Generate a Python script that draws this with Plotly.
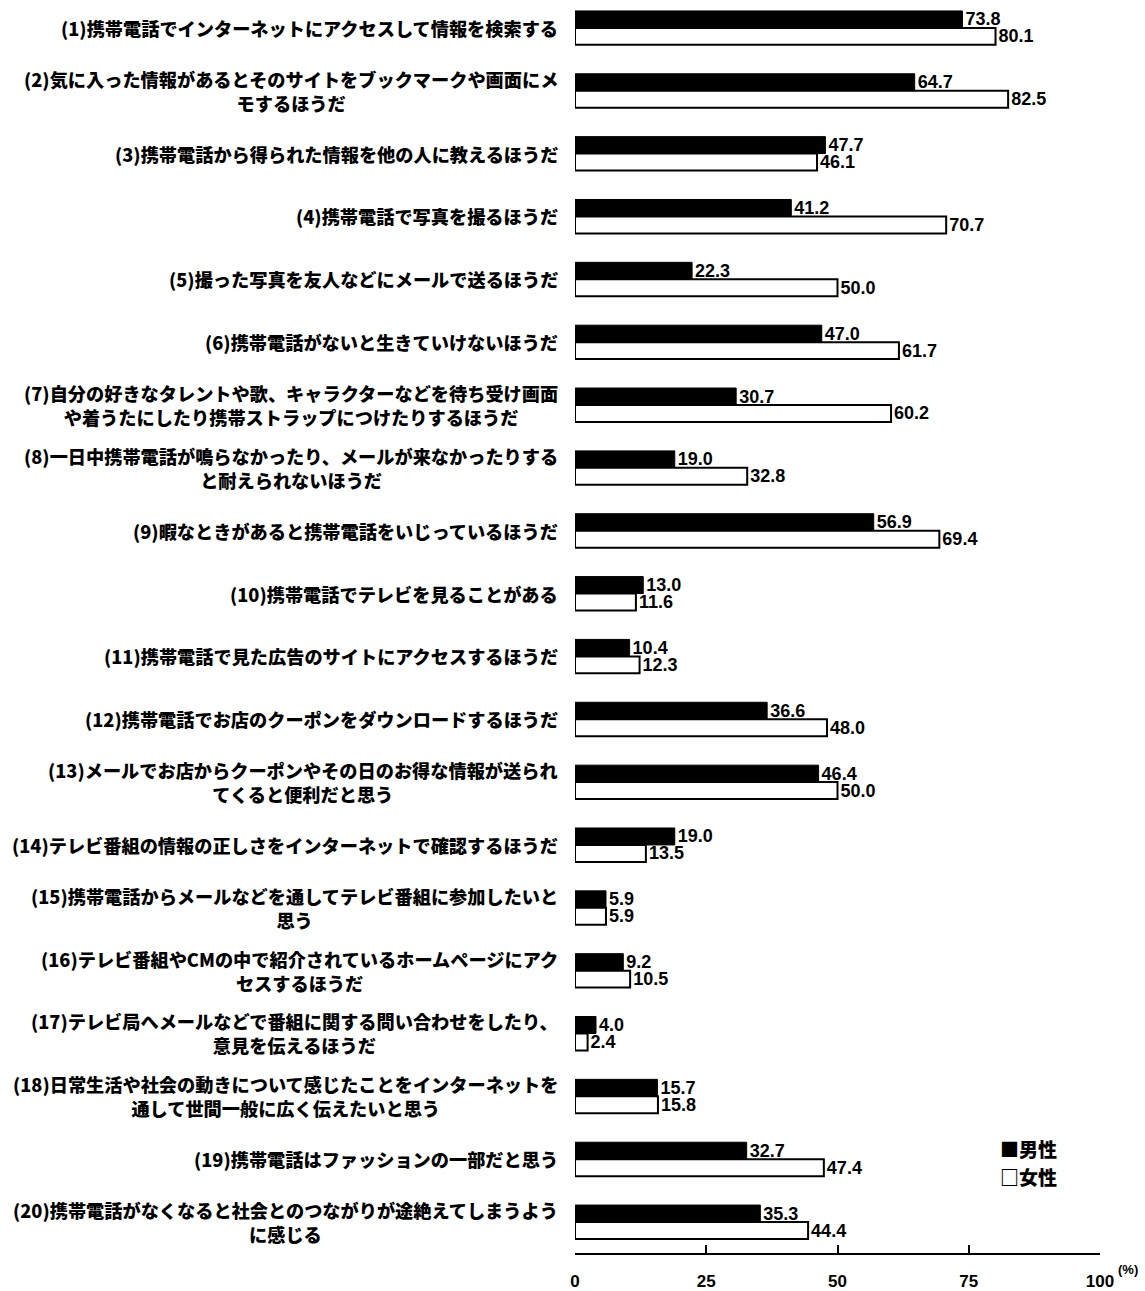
import plotly.graph_objects as go

# Survey items (Japanese), one per row, top to bottom
items = [
    "(1)携帯電話でインターネットにアクセスして情報を検索する",
    "(2)気に入った情報があるとそのサイトをブックマークや画面にメ<br>モするほうだ",
    "(3)携帯電話から得られた情報を他の人に教えるほうだ",
    "(4)携帯電話で写真を撮るほうだ",
    "(5)撮った写真を友人などにメールで送るほうだ",
    "(6)携帯電話がないと生きていけないほうだ",
    "(7)自分の好きなタレントや歌、キャラクターなどを待ち受け画面<br>や着うたにしたり携帯ストラップにつけたりするほうだ",
    "(8)一日中携帯電話が鳴らなかったり、メールが来なかったりする<br>と耐えられないほうだ",
    "(9)暇なときがあると携帯電話をいじっているほうだ",
    "(10)携帯電話でテレビを見ることがある",
    "(11)携帯電話で見た広告のサイトにアクセスするほうだ",
    "(12)携帯電話でお店のクーポンをダウンロードするほうだ",
    "(13)メールでお店からクーポンやその日のお得な情報が送られ<br>てくると便利だと思う",
    "(14)テレビ番組の情報の正しさをインターネットで確認するほうだ",
    "(15)携帯電話からメールなどを通してテレビ番組に参加したいと<br>思う",
    "(16)テレビ番組やCMの中で紹介されているホームページにアク<br>セスするほうだ",
    "(17)テレビ局へメールなどで番組に関する問い合わせをしたり、<br>意見を伝えるほうだ",
    "(18)日常生活や社会の動きについて感じたことをインターネットを<br>通して世間一般に広く伝えたいと思う",
    "(19)携帯電話はファッションの一部だと思う",
    "(20)携帯電話がなくなると社会とのつながりが途絶えてしまうよう<br>に感じる",
]

# Percentages by sex
male = [73.8, 64.7, 47.7, 41.2, 22.3, 47.0, 30.7, 19.0, 56.9, 13.0,
        10.4, 36.6, 46.4, 19.0, 5.9, 9.2, 4.0, 15.7, 32.7, 35.3]
female = [80.1, 82.5, 46.1, 70.7, 50.0, 61.7, 60.2, 32.8, 69.4, 11.6,
          12.3, 48.0, 50.0, 13.5, 5.9, 10.5, 2.4, 15.8, 47.4, 44.4]

x_ticks = [0, 25, 50, 75, 100]
series_names = ["男性", "女性"]

W, H = 1145, 1291
ML, MR, MT, MB = 575, 45, 0, 34
PW, PH = W - ML - MR, H - MT - MB

rows = list(range(1, len(items) + 1))
BW = 0.27

JP_FONT = "Noto Sans CJK JP, sans-serif"
NUM_FONT = "Liberation Sans, Arial, sans-serif"
num_font = dict(family=NUM_FONT, size=18, color="black", weight="bold")

fig = go.Figure()
fig.add_trace(go.Bar(
    y=rows, x=male, orientation="h", name=series_names[0],
    width=BW, offset=-BW,
    marker=dict(color="black", line=dict(color="black", width=1)),
    text=[f"{v:.1f}" for v in male], textposition="outside",
    textfont=num_font,
    constraintext="none", cliponaxis=False, showlegend=False,
))
fig.add_trace(go.Bar(
    y=rows, x=female, orientation="h", name=series_names[1],
    width=BW, offset=0,
    marker=dict(color="white", line=dict(color="black", width=2)),
    text=[f"{v:.1f}" for v in female], textposition="outside",
    textfont=num_font,
    constraintext="none", cliponaxis=False, showlegend=False,
))

# Row labels: centred text blocks right-aligned against the plot
for r, label in zip(rows, items):
    fig.add_annotation(
        x=0, xref="paper", y=r, yref="y", xshift=-15,
        xanchor="right", yanchor="middle", align="center",
        text=label, showarrow=False,
        font=dict(family=JP_FONT, size=18.2, color="black", weight=900),
    )


def px_to_paper(px, py):
    return (px - ML) / PW, 1 - (py - MT) / PH


# Legend drawn as text markers
for name, glyph, ypix in [(series_names[0], "■", 1152), (series_names[1], "□", 1180)]:
    lx, ly = px_to_paper(998, ypix)
    fig.add_annotation(
        x=lx, y=ly, xref="paper", yref="paper", xanchor="left", yanchor="middle",
        text=glyph + name, showarrow=False,
        font=dict(family=JP_FONT, size=19, color="black", weight=900),
    )

# Unit label for the value axis
ux, uy = px_to_paper(1116, 1274)
fig.add_annotation(
    x=ux, y=uy, xref="paper", yref="paper", xanchor="left", yanchor="middle",
    text="(%)", showarrow=False,
    font=dict(family="Liberation Sans, sans-serif", size=13, color="black", weight="bold"),
)

# Reversed numeric y so row 1 sits at the top
y_top = 0.556
y_bot = y_top + PH / 63.05

fig.update_layout(
    width=W, height=H,
    margin=dict(l=ML, r=MR, t=MT, b=MB, pad=0),
    barmode="overlay",
    paper_bgcolor="white", plot_bgcolor="white",
    xaxis=dict(
        range=[0, 100], tickvals=x_ticks, ticktext=[str(t) for t in x_ticks],
        showgrid=False, zeroline=False,
        showline=True, linecolor="black", linewidth=2,
        ticks="inside", ticklen=8, tickwidth=2, tickcolor="black",
        ticklabelstandoff=12,
        tickfont=dict(family="Liberation Sans, sans-serif", size=17, color="black", weight="bold"),
    ),
    yaxis=dict(
        range=[y_bot, y_top], showticklabels=False, showgrid=False,
        zeroline=False, showline=False, ticks="",
    ),
)

fig.write_html("out.html")
